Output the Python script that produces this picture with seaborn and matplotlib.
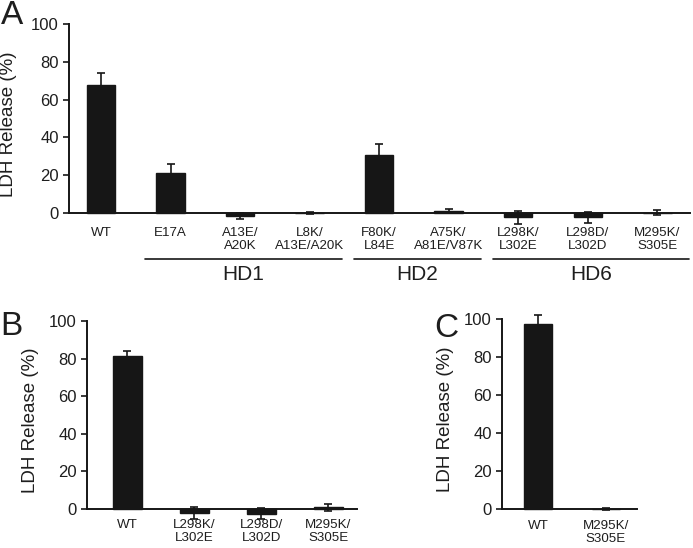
import matplotlib
matplotlib.use("Agg")
import matplotlib.pyplot as plt
import matplotlib.transforms as mtransforms
import pandas as pd
import seaborn as sns

# panel A data
a_labels = ["WT", "E17A", "A13E/\nA20K", "L8K/\nA13E/A20K", "F80K/\nL84E",
            "A75K/\nA81E/V87K", "L298K/\nL302E", "L298D/\nL302D", "M295K/\nS305E"]
a_values = [67.5, 21.3, -1.5, 0.2, 30.8, 1.2, -2.2, -2.3, 0.2]
a_errors = [6.5, 4.8, 1.5, 0.5, 5.8, 0.8, 3.4, 2.9, 1.5]
a_groups = ["HD1", "HD2", "HD6"]
a_group_first = [1, 4, 6]
a_group_last = [3, 5, 8]

# panel B data
b_labels = ["WT", "L298K/\nL302E", "L298D/\nL302D", "M295K/\nS305E"]
b_values = [81.3, -2.1, -2.6, 0.9]
b_errors = [2.5, 3.0, 2.9, 1.7]

# panel C data
c_labels = ["WT", "M295K/\nS305E"]
c_values = [97.3, 0.2]
c_errors = [4.8, 0.5]

sns.set_style("ticks")
plt.rcParams["font.family"] = ["Liberation Sans", "DejaVu Sans"]

W, H = 693, 548
fig = plt.figure(figsize=(W / 100, H / 100), dpi=100)
BAR = "#161616"
TXT = "#1e1e1e"


def make_axes(x_left, x_right, y_zero, y_hundred, ylo=-10, yhi=104):
    # place axes by pixel position of the y=0 / y=100 ticks
    ppu = (y_zero - y_hundred) / 100
    top = y_hundred - (yhi - 100) * ppu
    bottom = y_zero - ylo * ppu
    ax = fig.add_axes([x_left / W, 1 - bottom / H, (x_right - x_left) / W, (bottom - top) / H])
    return ax


def draw_panel(ax, labels, values, errors, width, xlim, xpad, ylabpad):
    df = pd.DataFrame({"mutant": labels, "release": values})
    sns.barplot(data=df, x="mutant", y="release", order=labels, color=BAR,
                saturation=1, width=width, errorbar=None, edgecolor=BAR, ax=ax)
    ax.errorbar(range(len(labels)), values, yerr=errors, fmt="none",
                ecolor=BAR, elinewidth=1.2, capsize=3, capthick=1.2, zorder=3)
    ax.set_ylim(-10, 104)
    ax.set_xlim(*xlim)
    ax.set_yticks([0, 20, 40, 60, 80, 100])
    ax.set_xlabel("")
    ax.set_ylabel("LDH Release (%)", fontsize=13.5, color=TXT, labelpad=ylabpad)
    sns.despine(ax=ax)
    ax.spines["bottom"].set_position(("data", 0))
    ax.spines["left"].set_bounds(0, 100)
    for s in ("left", "bottom"):
        ax.spines[s].set_linewidth(1.4)
        ax.spines[s].set_color(BAR)
    ax.tick_params(axis="y", labelsize=12, length=4.3, width=1.2, pad=3,
                   color=BAR, labelcolor=TXT)
    ax.tick_params(axis="x", labelsize=9.6, length=0, pad=xpad, labelcolor=TXT)
    for t in ax.get_xticklabels():
        t.set_linespacing(1.1)
    ax.patch.set_alpha(0)


# A
axA = make_axes(69, 690, 213, 24)
draw_panel(axA, a_labels, a_values, a_errors, 0.41, (-0.46, 8.47), 10, 10)
trans = mtransforms.blended_transform_factory(axA.transData, fig.transFigure)
for name, first, last in zip(a_groups, a_group_first, a_group_last):
    axA.plot([first - 0.36, last + 0.46], [1 - 259 / H] * 2, color=BAR,
             lw=1.2, transform=trans, clip_on=False)
    axA.text((first + last) / 2 + 0.05, 1 - 274 / H, name, transform=trans,
             ha="center", va="center", fontsize=15, color=TXT)

# B
axB = make_axes(87, 357, 509, 321)
draw_panel(axB, b_labels, b_values, b_errors, 0.43, (-0.6, 3.43), 7.5, 7)

# C
axC = make_axes(502, 637, 509, 319)
draw_panel(axC, c_labels, c_values, c_errors, 0.41, (-0.53, 1.46), 8, 7)

for letter, x, y in [("A", 1, 24), ("B", 0, 335), ("C", 434, 337)]:
    fig.text(x / W, 1 - y / H, letter, fontsize=24, color=TXT,
             ha="left", va="baseline")

fig.savefig("out.png", dpi=100, facecolor="white")
